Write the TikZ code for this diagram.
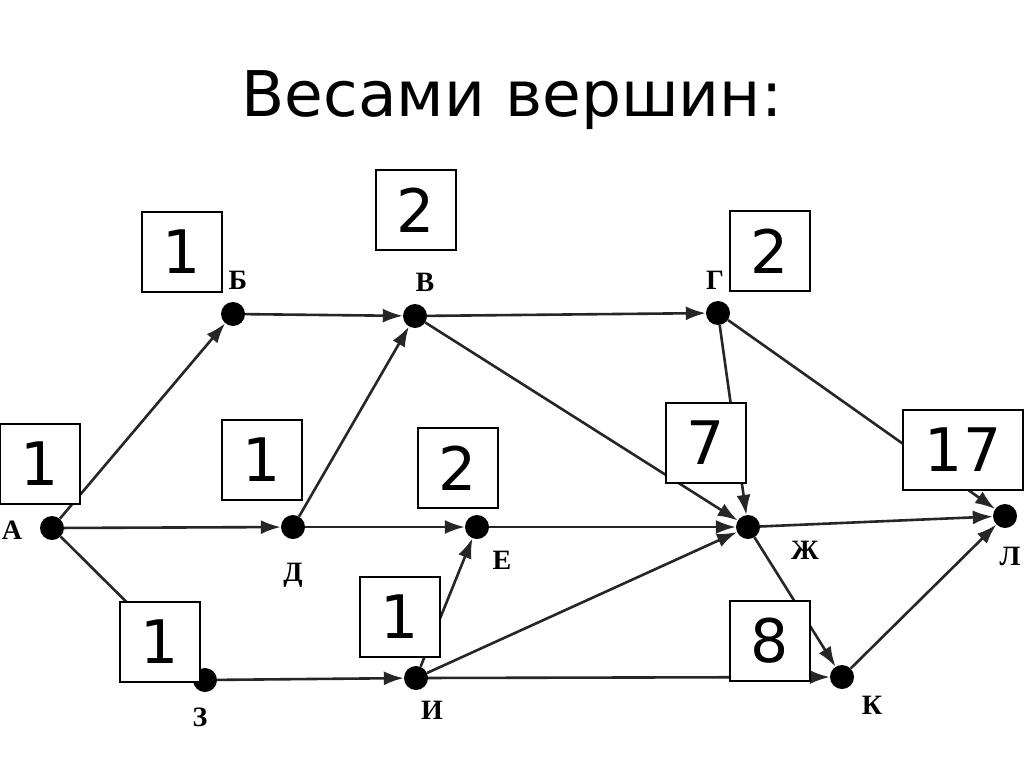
\documentclass[tikz,border=0pt]{standalone}
\usepackage{fontspec}
\setmainfont{Liberation Serif}
\newfontfamily\dejavu{DejaVu Sans}
\usetikzlibrary{arrows.meta}
\begin{document}
\begin{tikzpicture}[x=1pt,y=-1pt,
  v/.style={circle,fill=black,inner sep=0pt,minimum size=24pt},
  lab/.style={font=\bfseries\fontsize{28}{28}\selectfont},
  e/.style={draw=black!85,line width=2.6pt,-{Latex[length=20pt,width=14pt]}},
  wb/.style={draw=black,line width=2.6pt,fill=white,minimum width=80pt,minimum height=80pt,inner sep=0pt,font=\dejavu\fontsize{60}{60}\selectfont},
  wbw/.style={wb,minimum width=120pt}]
\useasboundingbox (0,0) rectangle (1024,768);
\fill[white] (0,0) rectangle (1024,768);
\node[font=\dejavu\fontsize{63}{63}\selectfont] (title) at (512,100) {Весами вершин:};
\node[v] (A) at (52,528) {};
\node[v] (B) at (233,314) {};
\node[v] (V) at (415,316) {};
\node[v] (G) at (718,313) {};
\node[v] (D) at (293,527) {};
\node[v] (E) at (477,527) {};
\node[v] (Zh) at (748,527) {};
\node[v] (L) at (1005,516) {};
\node[v] (Z) at (205,680) {};
\node[v] (I) at (416,678) {};
\node[v] (K) at (842,677) {};
\node[lab] (lA) at (12,530) {А};
\node[lab] (lB) at (238,280) {Б};
\node[lab] (lV) at (425,282) {В};
\node[lab] (lG) at (715,280) {Г};
\node[lab] (lD) at (293,575) {Д};
\node[lab] (lE) at (502,560) {Е};
\node[lab] (lZh) at (805,550) {Ж};
\node[lab] (lL) at (1010,556) {Л};
\node[lab] (lZ) at (200,717) {З};
\node[lab] (lI) at (432,710) {И};
\node[lab] (lK) at (872,705) {К};
\draw[e] (A) -- (B);
\draw[e] (B) -- (V);
\draw[e] (V) -- (G);
\draw[e] (D) -- (V);
\draw[e] (A) -- (D);
\draw[e] (D) -- (E);
\draw[e] (A) -- (Z);
\draw[e] (Z) -- (I);
\draw[e] (I) -- (E);
\draw[e] (I) -- (Zh);
\draw[e] (I) -- (K);
\draw[e] (V) -- (Zh);
\draw[e] (G) -- (Zh);
\draw[e] (E) -- (Zh);
\draw[e] (Zh) -- (L);
\draw[e] (G) -- (L);
\draw[e] (Zh) -- (K);
\draw[e] (K) -- (L);
\node[wb] (w1) at (182,252) {1};
\node[wb] (w2) at (416,210) {2};
\node[wb] (w3) at (770,251) {2};
\node[wb] (w4) at (40,464) {1};
\node[wb] (w5) at (262,460) {1};
\node[wb] (w6) at (458,468) {2};
\node[wb] (w7) at (706,443) {7};
\node[wbw] (w8) at (963,450) {17};
\node[wb] (w9) at (160,642) {1};
\node[wb] (w10) at (400,617) {1};
\node[wb] (w11) at (770,641) {8};
\end{tikzpicture}
\end{document}
